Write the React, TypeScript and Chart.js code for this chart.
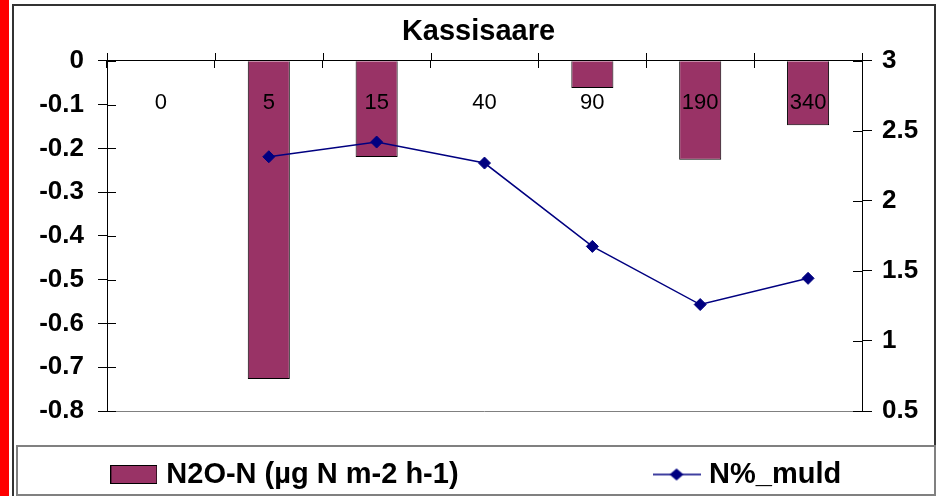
import React, { useEffect, useRef } from 'react';
import { Chart, registerables } from 'chart.js';

Chart.register(...registerables);

const TITLE = 'Kassisaare';
const categories = ['0', '5', '15', '40', '90', '190', '340'];
const n2oLabel = 'N2O-N (µg N m-2 h-1)';
const n2oValues = [null, -0.727, -0.22, null, -0.062, -0.226, -0.147];
const nMuldLabel = 'N%_muld';
const nMuldValues = [null, 2.315, 2.42, 2.27, 1.675, 1.26, 1.447];
const leftTicks = [0, -0.1, -0.2, -0.3, -0.4, -0.5, -0.6, -0.7, -0.8];
const rightTicks = [3, 2.5, 2, 1.5, 1, 0.5];

const FONT = "'Liberation Sans', Arial, Helvetica, sans-serif";
const BAR_COLOR = '#993366';
const LINE_COLOR = '#000080';

function makeBarSwatch(): HTMLCanvasElement {
  const c = document.createElement('canvas');
  c.width = 47;
  c.height = 19;
  const ctx = c.getContext('2d')!;
  ctx.fillStyle = BAR_COLOR;
  ctx.fillRect(0, 0, 47, 19);
  ctx.strokeStyle = '#000';
  ctx.lineWidth = 1;
  ctx.strokeRect(0.5, 0.5, 46, 18);
  return c;
}

function makeLineSwatch(): HTMLCanvasElement {
  const c = document.createElement('canvas');
  c.width = 48;
  c.height = 14;
  const ctx = c.getContext('2d')!;
  ctx.strokeStyle = LINE_COLOR;
  ctx.lineWidth = 1.5;
  ctx.beginPath();
  ctx.moveTo(0, 7);
  ctx.lineTo(48, 7);
  ctx.stroke();
  ctx.fillStyle = LINE_COLOR;
  ctx.beginPath();
  ctx.moveTo(24 - 7, 7);
  ctx.lineTo(24, 1);
  ctx.lineTo(24 + 7, 7);
  ctx.lineTo(24, 13);
  ctx.closePath();
  ctx.fill();
  return c;
}

function makeBlank(): HTMLCanvasElement {
  const c = document.createElement('canvas');
  c.width = 1;
  c.height = 1;
  return c;
}

const framePlugin = {
  id: 'framePlugin',
  beforeDatasetsDraw(chart: any) {
    const { ctx, chartArea } = chart;
    ctx.save();
    ctx.strokeStyle = '#808080';
    ctx.lineWidth = 1;
    ctx.beginPath();
    const by = Math.round(chartArea.bottom) + 0.5;
    ctx.moveTo(chartArea.left, by);
    ctx.lineTo(chartArea.right, by);
    ctx.stroke();
    ctx.restore();
  },
  afterDraw(chart: any) {
    const { ctx, chartArea, scales } = chart;
    ctx.save();
    ctx.strokeStyle = '#000';
    ctx.lineWidth = 1;
    ctx.beginPath();
    const y = scales.y;
    y.ticks.forEach((_t: any, i: number) => {
      const py = Math.round(y.getPixelForTick(i)) + 0.5;
      ctx.moveTo(chartArea.left, py);
      ctx.lineTo(chartArea.left + 9, py);
    });
    const y1 = scales.y1;
    y1.ticks.forEach((_t: any, i: number) => {
      const py = Math.round(y1.getPixelForTick(i)) + 0.5;
      ctx.moveTo(chartArea.right - 9, py);
      ctx.lineTo(chartArea.right, py);
    });
    const x = scales.x;
    const zero = Math.round(y.getPixelForValue(0));
    const half = (x.getPixelForValue(1) - x.getPixelForValue(0)) / 2;
    for (let i = 0; i <= categories.length; i++) {
      const px = Math.round(x.getPixelForValue(i) - half) + 0.5;
      ctx.moveTo(px, zero - 8);
      ctx.lineTo(px, zero);
    }
    ctx.stroke();
    ctx.restore();
  },
};

export default function App() {
  const canvasRef = useRef<HTMLCanvasElement | null>(null);

  useEffect(() => {
    const canvas = canvasRef.current;
    if (!canvas) return;
    const barSwatch = makeBarSwatch();
    const lineSwatch = makeLineSwatch();
    const blank = makeBlank();

    const chart = new Chart(canvas, {
      type: 'bar',
      data: {
        labels: categories,
        datasets: [
          {
            type: 'bar',
            label: n2oLabel,
            data: n2oValues as any,
            yAxisID: 'y',
            backgroundColor: BAR_COLOR,
            borderColor: '#000',
            borderWidth: 1,
            barPercentage: 0.39,
            categoryPercentage: 1,
            order: 2,
          },
          {
            type: 'line',
            label: nMuldLabel,
            data: nMuldValues as any,
            yAxisID: 'y1',
            borderColor: LINE_COLOR,
            borderWidth: 1.5,
            backgroundColor: LINE_COLOR,
            pointStyle: 'rectRot',
            pointRadius: 6,
            pointBackgroundColor: LINE_COLOR,
            pointBorderColor: LINE_COLOR,
            pointBorderWidth: 1,
            spanGaps: false,
            tension: 0,
            order: 1,
          },
        ],
      },
      options: {
        animation: false,
        responsive: false,
        maintainAspectRatio: false,
        layout: { padding: { left: 9, right: 0, top: 0, bottom: 0 } },
        plugins: {
          title: {
            display: true,
            text: TITLE,
            color: '#000',
            font: { family: FONT, size: 29, weight: 'bold' },
            padding: { top: 10, bottom: 11 },
          },
          legend: {
            position: 'bottom',
            title: { display: true, text: '', font: { size: 10 }, padding: { top: 2, bottom: 2 } },
            labels: {
              usePointStyle: true,
              pointStyleWidth: 36,
              padding: 33,
              color: '#000',
              font: { family: FONT, size: 29, weight: 'bold' },
              generateLabels: () => [
                { text: n2oLabel, fontColor: '#000', pointStyle: barSwatch, fillStyle: BAR_COLOR, strokeStyle: '#000', lineWidth: 0, hidden: false, datasetIndex: 0 },
                { text: '', fontColor: '#000', pointStyle: blank, fillStyle: 'rgba(0,0,0,0)', strokeStyle: 'rgba(0,0,0,0)', lineWidth: 0, hidden: false },
                { text: '', fontColor: '#000', pointStyle: blank, fillStyle: 'rgba(0,0,0,0)', strokeStyle: 'rgba(0,0,0,0)', lineWidth: 0, hidden: false },
                { text: nMuldLabel, fontColor: '#000', pointStyle: lineSwatch, fillStyle: LINE_COLOR, strokeStyle: LINE_COLOR, lineWidth: 0, hidden: false, datasetIndex: 1 },
              ] as any,
            },
          },
          tooltip: { enabled: false },
        },
        scales: {
          x: {
            type: 'category',
            position: { y: 0 } as any,
            offset: true,
            grid: { display: true, offset: true, drawOnChartArea: false, tickLength: 7, color: '#000', z: 1 },
            border: { display: true, color: '#000', width: 1, z: 1 },
            ticks: { color: '#000', font: { family: FONT, size: 22 }, padding: 22, maxRotation: 0, autoSkip: false, z: 1 },
          },
          y: {
            type: 'linear',
            position: 'left',
            min: -0.8,
            max: 0,
            afterBuildTicks: (s: any) => {
              s.ticks = leftTicks.map((v) => ({ value: v }));
            },
            afterFit: (s: any) => {
              s.width = 85;
            },
            grid: { drawOnChartArea: false, tickLength: 9, color: '#000' },
            border: { display: true, color: '#000', width: 1 },
            ticks: {
              color: '#000',
              font: { family: FONT, size: 26, weight: 'bold' },
              padding: 14,
              autoSkip: false,
              callback: (v: any) => String(v),
            },
          },
          y1: {
            type: 'linear',
            position: 'right',
            min: 0.5,
            max: 3,
            afterBuildTicks: (s: any) => {
              s.ticks = rightTicks.map((v) => ({ value: v }));
            },
            afterFit: (s: any) => {
              s.width = 73;
            },
            grid: { drawOnChartArea: false, tickLength: 10, color: '#000' },
            border: { display: true, color: '#000', width: 1 },
            ticks: {
              color: '#000',
              font: { family: FONT, size: 26, weight: 'bold' },
              padding: 10,
              autoSkip: false,
              callback: (v: any) => String(v),
            },
          },
        },
      },
      plugins: [framePlugin],
    });
    return () => chart.destroy();
  }, []);

  return (
    <div style={{ position: 'absolute', left: 0, top: 0, width: 945, height: 496, background: '#fff', overflow: 'hidden' }}>
      <div style={{ position: 'absolute', left: 0, top: 0, width: 9, height: 496, background: '#ff0000' }} />
      <div
        style={{
          position: 'absolute',
          left: 12,
          top: 4,
          width: 924,
          height: 510,
          border: '2px solid #333',
          boxSizing: 'border-box',
        }}
      />
      <div
        style={{
          position: 'absolute',
          left: 16,
          top: 445,
          width: 920,
          height: 51,
          border: '2px solid #808080',
          boxSizing: 'border-box',
        }}
      />
      <canvas
        ref={canvasRef}
        width={922}
        height={494}
        style={{ position: 'absolute', left: 13, top: 5, width: 922, height: 494, display: 'block' }}
      />
    </div>
  );
}
